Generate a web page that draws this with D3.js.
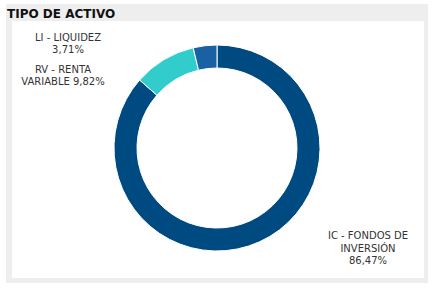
<!DOCTYPE html>
<html>
<head>
<meta charset="utf-8">
<script src="https://cdn.jsdelivr.net/npm/d3@7"></script>
<style>
  body { margin: 0; background: #fff; }
  text { font-family: "DejaVu Sans", sans-serif; }
</style>
</head>
<body>
<div id="chart"></div>
<script>
const categories = ["IC - FONDOS DE INVERSIÓN", "RV - RENTA VARIABLE", "LI - LIQUIDEZ"];
const values = [86.47, 9.82, 3.71];
const valueLabels = ["86,47%", "9,82%", "3,71%"];
const colors = ["#004a82", "#33cccc", "#1a61a3"];

// label lines for each slice (same order as categories)
const labelLines = [
  ["IC - FONDOS DE", "INVERSIÓN", "86,47%"],
  ["RV - RENTA", "VARIABLE 9,82%"],
  ["LI - LIQUIDEZ", "3,71%"]
];
// label anchor positions (layout only)
const labelPos = [[368, 239], [63, 72.5], [68, 40.5]];

const width = 437, height = 289;
const cx = 217, cy = 148;

const svg = d3.select("#chart")
  .append("svg")
  .attr("width", width)
  .attr("height", height);

// outer grey panel + white plot area
svg.append("rect")
  .attr("x", 6).attr("y", 4)
  .attr("width", 422).attr("height", 279)
  .attr("fill", "#eeeeee");

svg.append("rect")
  .attr("x", 12).attr("y", 21)
  .attr("width", 412).attr("height", 257)
  .attr("fill", "#ffffff");

svg.append("text")
  .attr("x", 7)
  .attr("y", 17.5)
  .attr("font-weight", "bold")
  .attr("font-size", "12px")
  .attr("fill", "#111")
  .text("TIPO DE ACTIVO");

const data = categories.map((c, i) => ({ name: c, value: values[i], color: colors[i] }));

const pie = d3.pie()
  .sort(null)
  .value(d => d.value);

const arc = d3.arc()
  .innerRadius(80)
  .outerRadius(103);

const g = svg.append("g")
  .attr("transform", `translate(${cx}, ${cy})`);

g.selectAll("path")
  .data(pie(data))
  .join("path")
  .attr("d", arc)
  .attr("fill", d => d.data.color)
  .attr("stroke", "#ffffff")
  .attr("stroke-width", 1);

labelLines.forEach((lines, i) => {
  const t = svg.append("text")
    .attr("text-anchor", "middle")
    .attr("font-size", "10px")
    .attr("fill", "#333");
  lines.forEach((ln, j) => {
    t.append("tspan")
      .attr("x", labelPos[i][0])
      .attr("y", labelPos[i][1] + j * 12.5)
      .text(ln);
  });
});
</script>
</body>
</html>
